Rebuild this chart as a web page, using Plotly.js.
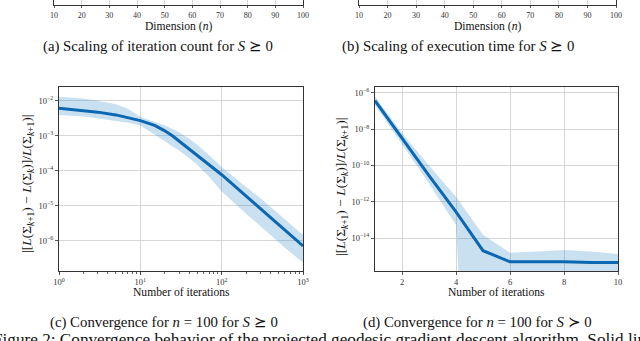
<!DOCTYPE html>
<html>
<head>
<meta charset="utf-8">
<script src="https://cdn.plot.ly/plotly-3.0.1.min.js"></script>
<style>
  html, body { margin: 0; padding: 0; background: #fff; }
  #fig { width: 640px; height: 341px; }
</style>
</head>
<body>
<div id="fig"></div>
<script>
// (c) convergence for S >= 0, log-log
const iterC  = [1, 2, 3, 5, 7, 10, 15, 20, 25, 30, 40, 50, 70, 100, 200, 300, 500, 700, 1000];
const meanC  = [6.2e-3, 5.4e-3, 4.8e-3, 4.0e-3, 3.4e-3, 2.75e-3, 2.0e-3, 1.4e-3, 1.0e-3, 7.1e-4,
                4.4e-4, 2.8e-4, 1.5e-4, 7.8e-5, 1.9e-5, 8.3e-6, 3.0e-6, 1.5e-6, 7.2e-7];
const upperC = [1.32e-2, 1.17e-2, 1.02e-2, 8.1e-3, 6.0e-3, 3.55e-3, 2.5e-3, 2.0e-3, 1.58e-3, 1.26e-3,
                8.3e-4, 5.6e-4, 2.8e-4, 1.29e-4, 3.5e-5, 1.66e-5, 6.0e-6, 3.0e-6, 1.48e-6];
const lowerC = [4.0e-3, 3.6e-3, 3.2e-3, 2.75e-3, 2.4e-3, 2.0e-3, 1.12e-3, 7.1e-4, 5.0e-4, 3.8e-4,
                2.3e-4, 1.5e-4, 6.8e-5, 2.6e-5, 6.0e-6, 2.6e-6, 8.9e-7, 4.7e-7, 2.4e-7];

// (d) convergence for S > 0, semilog; lower band hits zero from iteration 5 on
const iterD  = [1, 2, 3, 4, 5, 6, 7, 8, 9, 10];
const meanD  = [3.8e-7, 3.2e-9, 2.8e-11, 2.8e-13, 2.0e-15, 4.9e-16, 4.9e-16, 4.9e-16, 4.4e-16, 4.4e-16];
const upperD = [6.3e-7, 6.3e-9, 1.0e-10, 1.9e-12, 1.5e-14, 1.55e-15, 1.8e-15, 2.2e-15, 1.8e-15, 1.3e-15];
const lowerD = [2.2e-7, 1.6e-9, 1.0e-11, 5.2e-14, 1e-100, 1e-100, 1e-100, 1e-100, 1e-100, 1e-100];

// tick labels
const xTicksC = [1, 10, 100, 1000];
const xTextC  = ['10<sup>0</sup>', '10<sup>1</sup>', '10<sup>2</sup>', '10<sup>3</sup>'];
const yTicksC = [1e-2, 1e-3, 1e-4, 1e-5, 1e-6];
const yTextC  = ['10<sup>−2</sup>', '10<sup>−3</sup>', '10<sup>−4</sup>', '10<sup>−5</sup>', '10<sup>−6</sup>'];
const xTicksD = [2, 4, 6, 8, 10];
const yTicksD = [1e-6, 1e-8, 1e-10, 1e-12, 1e-14];
const yTextD  = ['10<sup>−6</sup>', '10<sup>−8</sup>', '10<sup>−10</sup>', '10<sup>−12</sup>', '10<sup>−14</sup>'];

// remnant x axes of (a) and (b) at the top of the crop
const dimTicks = [10, 20, 30, 40, 50, 60, 70, 80, 90, 100];

const LINE = '#0b67b2';
const BAND = 'rgba(30,125,195,0.24)';
const SPINE = '#333';
const GRID = '#d6d6d6';
const SERIF = 'Liberation Serif, DejaVu Serif, serif';

const W = 640, H = 341;
const px = v => v / W;
const py = v => 1 - v / H;

function band(x, lo, hi, xa, ya) {
    return [
        { x, y: lo, xaxis: xa, yaxis: ya, type: 'scatter', mode: 'lines',
          line: { width: 0, color: BAND }, hoverinfo: 'skip' },
        { x, y: hi, xaxis: xa, yaxis: ya, type: 'scatter', mode: 'lines',
          line: { width: 0, color: BAND }, fill: 'tonexty', fillcolor: BAND, hoverinfo: 'skip' },
    ];
}

const data = [
    ...band(iterC, lowerC, upperC, 'x', 'y'),
    { x: iterC, y: meanC, xaxis: 'x', yaxis: 'y', type: 'scatter', mode: 'lines',
      line: { color: LINE, width: 3 } },
    ...band(iterD, lowerD, upperD, 'x2', 'y2'),
    { x: iterD, y: meanD, xaxis: 'x2', yaxis: 'y2', type: 'scatter', mode: 'lines',
      line: { color: LINE, width: 3 } },
    // empty traces so the cut-off axes of (a) and (b) get drawn
    { x: [], y: [], xaxis: 'x3', yaxis: 'y3', type: 'scatter', mode: 'lines' },
    { x: [], y: [], xaxis: 'x4', yaxis: 'y4', type: 'scatter', mode: 'lines' },
];

const tickfont = { family: SERIF, size: 8.5, color: '#333' };
const base = {
    showline: true, linecolor: SPINE, linewidth: 1, mirror: true,
    ticks: 'outside', ticklen: 3, tickcolor: SPINE, tickwidth: 0.8,
    showgrid: true, gridcolor: GRID, gridwidth: 1, zeroline: false,
    tickfont, fixedrange: true, autorange: false,
};
const logAx = { ...base, type: 'log' };
const topAx = { ...base, mirror: false, range: [10, 100], tickvals: dimTicks, ticklen: 2,
                tickfont: { ...tickfont, size: 8 } };
const stubY = { ...base, domain: [py(5), 1], range: [0, 1], showgrid: false, ticks: '',
                showticklabels: false };

const yTitle = '|[<i>L</i>(Σ<sub><i>k</i>+1</sub>) − <i>L</i>(Σ<sub><i>k</i></sub>)]/<i>L</i>(Σ<sub><i>k</i>+1</sub>)|';

function note(text, x, y, size, extra) {
    return { text, x: px(x), y: py(y), xref: 'paper', yref: 'paper', showarrow: false,
             xanchor: 'center', yanchor: 'middle',
             font: { family: SERIF, size, color: '#111' }, ...extra };
}

const layout = {
    width: W, height: H,
    margin: { l: 0, r: 0, t: 0, b: 0 },
    paper_bgcolor: '#fff', plot_bgcolor: '#fff',
    showlegend: false,
    xaxis:  { ...logAx, domain: [px(59), px(303)], range: [0, 3], anchor: 'y',
              tickvals: xTicksC, ticktext: xTextC,
              minor: { ticks: 'outside', ticklen: 1.5, tickcolor: SPINE, showgrid: false, dtick: 'D1' } },
    yaxis:  { ...logAx, domain: [py(271), py(87)], range: [-6.86, -1.6], anchor: 'x',
              tickvals: yTicksC, ticktext: yTextC },
    xaxis2: { ...base, domain: [px(375), px(618)], range: [1, 10], anchor: 'y2', tickvals: xTicksD },
    yaxis2: { ...logAx, domain: [py(271), py(87)], range: [-15.82, -5.67], anchor: 'x2',
              tickvals: yTicksD, ticktext: yTextD },
    xaxis3: { ...topAx, domain: [px(54), px(303)], anchor: 'y3' },
    yaxis3: { ...stubY, anchor: 'x3' },
    xaxis4: { ...topAx, domain: [px(359), px(616)], anchor: 'y4' },
    yaxis4: { ...stubY, anchor: 'x4' },
    annotations: [
        note('Dimension (<i>n</i>)', 178, 26, 11.6),
        note('Dimension (<i>n</i>)', 487, 26, 11.6),
        note('(a) Scaling of iteration count for <i>S</i> ⪰ 0', 158, 46, 14.8),
        note('(b) Scaling of execution time for <i>S</i> ⪰ 0', 458, 46, 14.8),
        note('Number of iterations', 181, 292, 11.6),
        note('Number of iterations', 496, 292, 11.6),
        note(yTitle, 27, 184, 13.5, { textangle: -90 }),
        note(yTitle, 342, 187, 13.5, { textangle: -90 }),
        note('(c) Convergence for <i>n</i> = 100 for <i>S</i> ⪰ 0', 164, 322, 14.8),
        note('(d) Convergence for <i>n</i> = 100 for <i>S</i> ≻ 0', 477, 322, 14.8),
        note('Figure 2: Convergence behavior of the projected geodesic gradient descent algorithm. Solid lines represent',
             -9.5, 339, 17.2, { xanchor: 'left' }),
    ],
};

Plotly.newPlot('fig', data, layout, { staticPlot: true, displayModeBar: false });
</script>
</body>
</html>
